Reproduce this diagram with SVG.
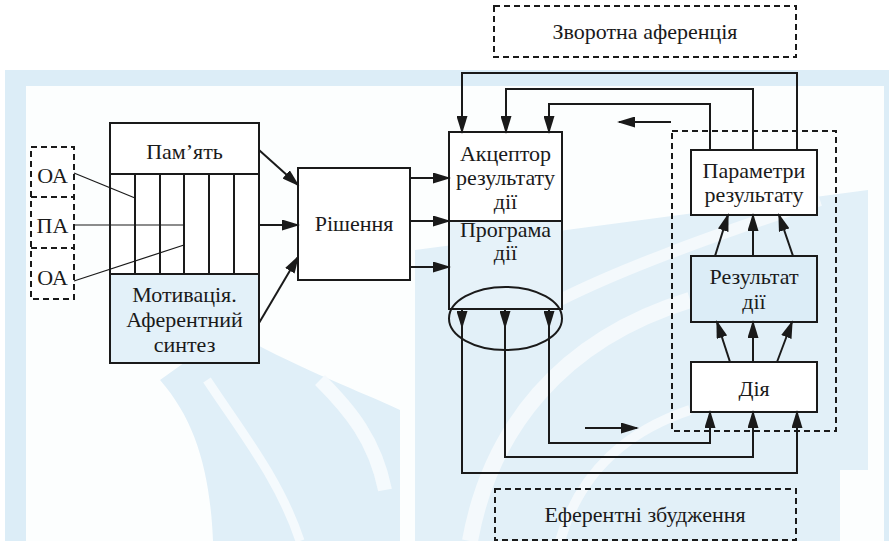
<svg xmlns="http://www.w3.org/2000/svg" width="891" height="541" viewBox="0 0 891 541">
<defs>
<style>
.box{fill:#ffffff;stroke:#1a1a1a;stroke-width:2}
.blu{fill:#dcedf7;stroke:#1a1a1a;stroke-width:2}
.dash{fill:none;stroke:#1a1a1a;stroke-width:2;stroke-dasharray:6 4}
.ln{fill:none;stroke:#1a1a1a;stroke-width:2}
.thin{fill:none;stroke:#1a1a1a;stroke-width:1.2}
.ar{fill:none;stroke:#1a1a1a;stroke-width:2;marker-end:url(#ah)}
</style>
<marker id="ah" viewBox="0 0 18 11" refX="16" refY="5.5" markerWidth="18" markerHeight="11" markerUnits="userSpaceOnUse" orient="auto">
<path d="M0,0 L18,5.5 L0,11 Z" fill="#1a1a1a"/>
</marker>
</defs>

<g id="background">
<rect x="5" y="70" width="884" height="471" fill="#dcedf7"/>
<rect x="26" y="86" width="858" height="455" fill="#fcfefe"/>
<path d="M213,541 C210,470 195,420 160,380 L230,330 C300,370 370,395 400,410 L400,541 Z" fill="#e0eff8"/>
<path d="M207,380 C240,430 280,480 300,541" fill="none" stroke="#f5fafd" stroke-width="9"/>
<path d="M320,380 C350,410 375,440 385,490" fill="none" stroke="#f5fafd" stroke-width="14"/>
<path d="M415,541 L415,250 L868,190 L868,470 L840,470 L840,541 Z" fill="#e2f0f8"/>
<path d="M470,541 C490,430 560,340 690,300" fill="none" stroke="#f4f9fc" stroke-width="16"/>
<path d="M560,300 C620,270 700,240 820,200" fill="none" stroke="#f4f9fc" stroke-width="12"/>
<path d="M560,541 C580,470 630,430 690,410" fill="none" stroke="#f4f9fc" stroke-width="10"/>
</g>

<g id="zvorotna">
<rect class="dash" x="494" y="6" width="302" height="51"/>
<text x="645" y="39" font-family="Liberation Serif" font-size="22" fill="#1a1a1a" text-anchor="middle">Зворотна аференція</text>
</g>

<g id="eferentni">
<rect class="dash" x="495" y="489" width="301" height="51"/>
<text x="645" y="522" font-family="Liberation Serif" font-size="22" fill="#1a1a1a" text-anchor="middle">Еферентні збудження</text>
</g>

<g id="oa-pa">
<rect class="dash" x="31" y="147" width="43" height="152" style="fill:#fff"/>
<line class="dash" x1="31" y1="197" x2="74" y2="197"/>
<line class="dash" x1="31" y1="248" x2="74" y2="248"/>
<text x="52.5" y="183" font-family="Liberation Serif" font-size="22" fill="#1a1a1a" text-anchor="middle">ОА</text>
<text x="52.5" y="233" font-family="Liberation Serif" font-size="22" fill="#1a1a1a" text-anchor="middle">ПА</text>
<text x="52.5" y="285" font-family="Liberation Serif" font-size="22" fill="#1a1a1a" text-anchor="middle">ОА</text>
</g>

<g id="aferentnyi-syntez">
<rect class="box" x="110" y="123" width="149" height="51"/>
<rect class="box" x="110" y="174" width="149" height="100"/>
<rect class="blu" x="110" y="274" width="149" height="89" style="fill:#e3f1f9"/>
<line class="ln" x1="135" y1="174" x2="135" y2="274"/>
<line class="ln" x1="160" y1="174" x2="160" y2="274"/>
<line class="ln" x1="184" y1="174" x2="184" y2="274"/>
<line class="ln" x1="209" y1="174" x2="209" y2="274"/>
<line class="ln" x1="234" y1="174" x2="234" y2="274"/>
<text x="184.5" y="159" font-family="Liberation Serif" font-size="22" fill="#1a1a1a" text-anchor="middle">Пам’ять</text>
<text x="184.5" y="302" font-family="Liberation Serif" font-size="22" fill="#1a1a1a" text-anchor="middle">Мотивація.</text>
<text x="184.5" y="327" font-family="Liberation Serif" font-size="22" fill="#1a1a1a" text-anchor="middle">Аферентний</text>
<text x="184.5" y="352" font-family="Liberation Serif" font-size="22" fill="#1a1a1a" text-anchor="middle">синтез</text>
</g>

<g id="rishennia">
<rect class="box" x="298" y="168" width="112" height="112"/>
<text x="354" y="231" font-family="Liberation Serif" font-size="22" fill="#1a1a1a" text-anchor="middle">Рішення</text>
</g>

<g id="aktseptor">
<rect class="box" x="449" y="132" width="113" height="89"/>
<text x="505.5" y="161" font-family="Liberation Serif" font-size="22" fill="#1a1a1a" text-anchor="middle">Акцептор</text>
<text x="505.5" y="185" font-family="Liberation Serif" font-size="22" fill="#1a1a1a" text-anchor="middle">результату</text>
<text x="505.5" y="209" font-family="Liberation Serif" font-size="22" fill="#1a1a1a" text-anchor="middle">дії</text>
</g>

<g id="prohrama">
<rect class="blu" x="449" y="221" width="113" height="88" style="fill:#e6f2f9"/>
<text x="505.5" y="237" font-family="Liberation Serif" font-size="22" fill="#1a1a1a" text-anchor="middle">Програма</text>
<text x="505.5" y="260" font-family="Liberation Serif" font-size="22" fill="#1a1a1a" text-anchor="middle">дії</text>
<ellipse class="ln" cx="505.5" cy="318.5" rx="56.5" ry="31.5"/>
</g>

<g id="dashed-group">
<rect class="dash" x="672" y="131" width="164" height="300"/>
</g>

<g id="parametry">
<rect class="box" x="691" y="150" width="126" height="65"/>
<text x="754" y="178" font-family="Liberation Serif" font-size="22" fill="#1a1a1a" text-anchor="middle">Параметри</text>
<text x="754" y="202" font-family="Liberation Serif" font-size="22" fill="#1a1a1a" text-anchor="middle">результату</text>
</g>

<g id="rezultat">
<rect class="blu" x="691" y="256" width="126" height="66"/>
<text x="754" y="284" font-family="Liberation Serif" font-size="22" fill="#1a1a1a" text-anchor="middle">Результат</text>
<text x="754" y="309" font-family="Liberation Serif" font-size="22" fill="#1a1a1a" text-anchor="middle">дії</text>
</g>

<g id="diia">
<rect class="box" x="691" y="362" width="126" height="50"/>
<text x="754" y="396" font-family="Liberation Serif" font-size="22" fill="#1a1a1a" text-anchor="middle">Дія</text>
</g>

<g id="connectors">
<line class="thin" x1="74" y1="173" x2="135" y2="198"/>
<line class="thin" x1="74" y1="225" x2="184" y2="225"/>
<line class="thin" x1="74" y1="281" x2="184" y2="245"/>

<path class="ar" d="M259,150 L298,185"/>
<path class="ar" d="M259,225 L298,225"/>
<path class="ar" d="M259,323 L298,257"/>

<path class="ar" d="M410,178 L449,178"/>
<path class="ar" d="M410,221 L449,221"/>
<path class="ar" d="M410,267 L449,267"/>

<path class="ar" d="M797,150 V73 H462 V132"/>
<path class="ar" d="M753,150 V89 H506 V132"/>
<path class="ar" d="M710,150 V104 H549 V132"/>
<path class="ar" d="M671,122 H619"/>

<path class="ar" d="M462,309 V327"/>
<path class="ar" d="M505,309 V327"/>
<path class="ar" d="M549,309 V327"/>
<path class="ar" d="M549,320 V443 H710 V412"/>
<path class="ar" d="M505,320 V457 H753 V412"/>
<path class="ar" d="M462,320 V473 H797 V412"/>
<path class="ar" d="M585,428 H637"/>

<path class="ar" d="M730,362 L717,322"/>
<path class="ar" d="M753,362 L753,322"/>
<path class="ar" d="M777,362 L792,322"/>

<path class="ar" d="M715,256 L728,215"/>
<path class="ar" d="M753,256 L753,215"/>
<path class="ar" d="M793,256 L779,215"/>
</g>
</svg>
